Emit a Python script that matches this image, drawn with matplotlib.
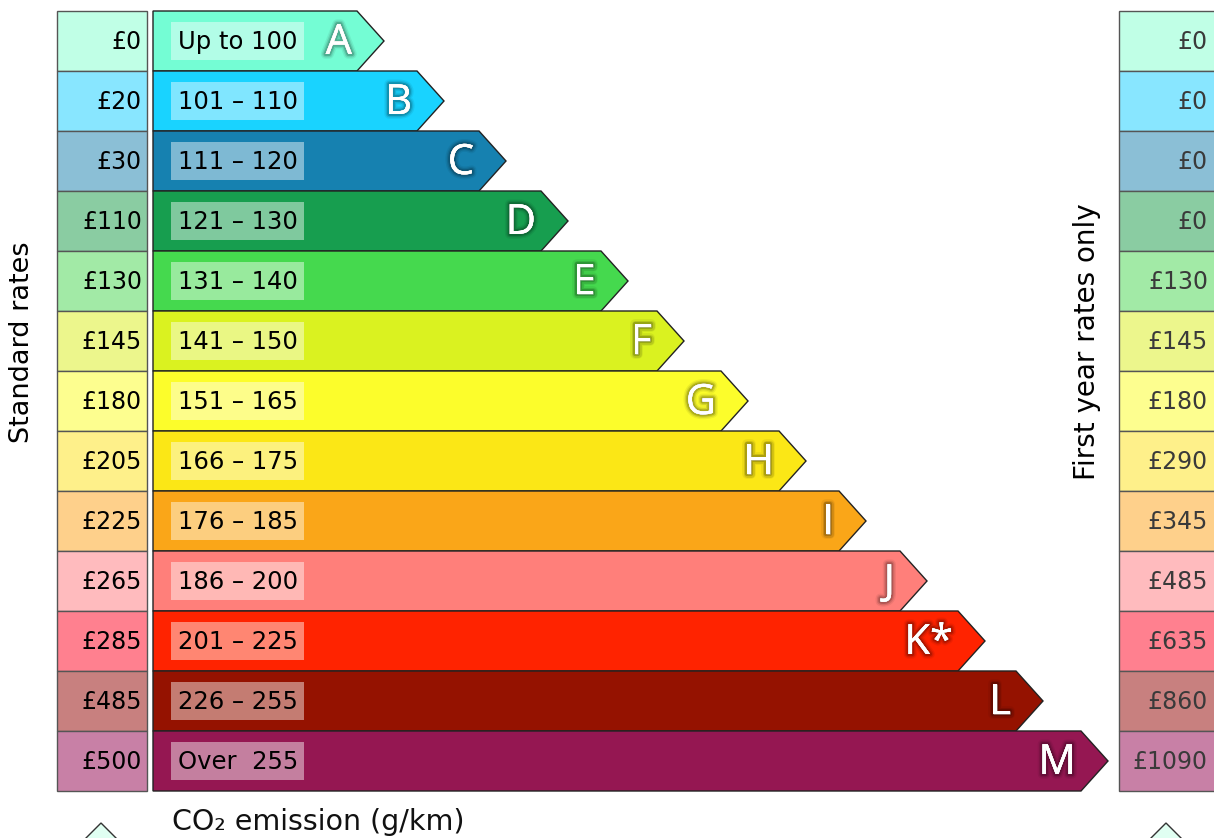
import matplotlib.pyplot as plt
import matplotlib.patheffects as pe
from matplotlib.patches import Polygon, Rectangle

# bands (CO2 g/km)
bands = ["A", "B", "C", "D", "E", "F", "G", "H", "I", "J", "K*", "L", "M"]
ranges = ["Up to 100", "101 – 110", "111 – 120", "121 – 130", "131 – 140",
          "141 – 150", "151 – 165", "166 – 175", "176 – 185", "186 – 200",
          "201 – 225", "226 – 255", "Over  255"]
standard = ["£0", "£20", "£30", "£110", "£130", "£145", "£180", "£205",
            "£225", "£265", "£285", "£485", "£500"]
first_year = ["£0", "£0", "£0", "£0", "£130", "£145", "£180", "£290",
              "£345", "£485", "£635", "£860", "£1090"]
# arrow length per band
bar_len = [231, 291, 353, 415, 475, 531, 595, 653, 713, 774, 832, 890, 955]

bar_colors = ["#74FDD4", "#19D3FF", "#1681B0", "#179E4F", "#45D94E", "#DAF220",
              "#FCFD2B", "#FBE716", "#FAA618", "#FF7F7A", "#FF2300", "#951200",
              "#951752"]
box_colors = ["#C0FFE6", "#88E6FF", "#8BBFD6", "#8ACCA2", "#A2EAA6", "#ECF68C",
              "#FDFE8F", "#FEF08A", "#FED08B", "#FFBBBE", "#FF808F", "#C8807F",
              "#C880A6"]

fig = plt.figure(figsize=(12.14, 8.38), dpi=100)
ax = fig.add_axes([0, 0, 1, 1])
ax.set_xlim(0, 1214)
ax.set_ylim(838, 0)
ax.axis("off")

x0 = 153
top = 11
h = 60
head = 27

# soft dark glow behind the white letters
glow = [pe.withStroke(linewidth=7, foreground=(0, 0, 0, 0.06)),
        pe.withStroke(linewidth=5, foreground=(0, 0, 0, 0.10)),
        pe.withStroke(linewidth=3, foreground=(0, 0, 0, 0.18)),
        pe.Normal()]

for i, b in enumerate(bands):
    y = top + i * h
    # left box
    ax.add_patch(Rectangle((57, y), 90, h, facecolor=box_colors[i],
                           edgecolor="#555555", lw=1))
    ax.text(142, y + h / 2 + 1, standard[i], ha="right", va="center",
            fontsize=17, color="black")
    # right box
    ax.add_patch(Rectangle((1119, y), 110, h, facecolor=box_colors[i],
                           edgecolor="#555555", lw=1))
    ax.text(1208, y + h / 2 + 1, first_year[i], ha="right", va="center",
            fontsize=17, color="#3a3a3a")
    # arrow
    tip = x0 + bar_len[i]
    pts = [(x0, y), (tip - head, y), (tip, y + h / 2), (tip - head, y + h), (x0, y + h)]
    ax.add_patch(Polygon(pts, closed=True, facecolor=bar_colors[i],
                         edgecolor="#222222", lw=1))
    # range label
    ax.add_patch(Rectangle((171, y + 11), 133, 38, facecolor="white",
                           alpha=0.45, lw=0))
    ax.text(178, y + h / 2 + 1, ranges[i], ha="left", va="center",
            fontsize=17.5, color="black")
    # band letter
    ax.text(tip - 32, y + h / 2 + 2, b, ha="right", va="center",
            fontsize=30, color="white", family="Open Sans", path_effects=glow)

ax.text(22, 342, "Standard rates", rotation=90, ha="center", va="center",
        fontsize=19.5, color="black")
ax.text(1087, 342, "First year rates only", rotation=90, ha="center", va="center",
        fontsize=20, color="black")
ax.text(172, 822, "CO₂ emission (g/km)", ha="left", va="center",
        fontsize=20.5, color="#111111")

# little triangles at bottom (cut off)
for cx in [101, 1166]:
    ax.add_patch(Polygon([(cx, 823), (cx - 20, 843), (cx + 20, 843)], closed=True,
                         facecolor="#E0FFF2", edgecolor="#333333", lw=1))

fig.savefig("out.png", dpi=100)
